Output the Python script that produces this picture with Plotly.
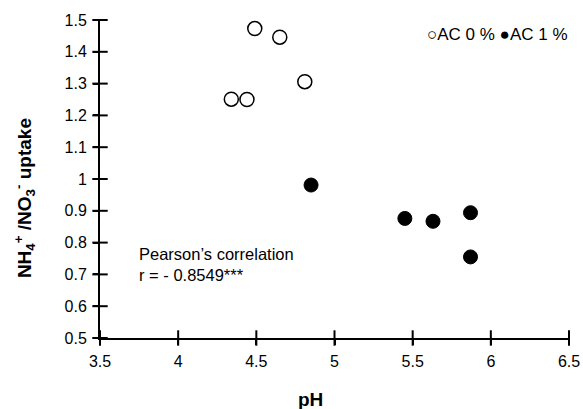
import plotly.graph_objects as go

# Data
ph_ac0 = [4.34, 4.44, 4.49, 4.65, 4.81]
ratio_ac0 = [1.251, 1.250, 1.473, 1.446, 1.306]
ph_ac1 = [4.85, 5.45, 5.63, 5.87, 5.87]
ratio_ac1 = [0.981, 0.876, 0.867, 0.894, 0.755]

x_ticks = [3.5, 4, 4.5, 5, 5.5, 6, 6.5]
y_ticks = [0.5, 0.6, 0.7, 0.8, 0.9, 1.0, 1.1, 1.2, 1.3, 1.4, 1.5]
y_labels = ["0.5", "0.6", "0.7", "0.8", "0.9", "1", "1.1", "1.2", "1.3", "1.4", "1.5"]

FONT = "Arial, Liberation Sans, sans-serif"
xr = [3.5, 6.5]
yr = [0.5, 1.5]

fig = go.Figure()
# crossing tick marks, centred on the axis lines
fig.add_trace(go.Scatter(
    x=x_ticks, y=[yr[0]] * len(x_ticks), mode="markers", cliponaxis=False,
    marker=dict(symbol="line-ns-open", size=11, color="black",
                line=dict(color="black", width=2)),
    showlegend=False, hoverinfo="skip",
))
fig.add_trace(go.Scatter(
    x=[xr[0]] * len(y_ticks), y=y_ticks, mode="markers", cliponaxis=False,
    marker=dict(symbol="line-ew-open", size=11, color="black",
                line=dict(color="black", width=2)),
    showlegend=False, hoverinfo="skip",
))
fig.add_trace(go.Scatter(
    x=ph_ac0, y=ratio_ac0, mode="markers", name="AC 0 %", cliponaxis=False,
    marker=dict(size=14, color="white", line=dict(color="black", width=1.5)),
))
fig.add_trace(go.Scatter(
    x=ph_ac1, y=ratio_ac1, mode="markers", name="AC 1 %", cliponaxis=False,
    marker=dict(size=14, color="black", line=dict(color="black", width=1)),
))

fig.update_layout(
    width=583, height=409,
    margin=dict(l=100, r=14, t=20, b=71),
    paper_bgcolor="white", plot_bgcolor="white",
    showlegend=False,
    font=dict(family=FONT, size=16, color="black"),
    xaxis=dict(
        range=xr, tickvals=x_ticks, ticktext=[str(v) for v in x_ticks],
        showgrid=False, zeroline=False, automargin=False,
        showline=True, linecolor="black", linewidth=2,
        ticks="outside", ticklen=5, tickwidth=2, tickcolor="black",
        ticklabelstandoff=3,
        tickfont=dict(size=16),
    ),
    yaxis=dict(
        range=yr, tickvals=y_ticks, ticktext=y_labels,
        showgrid=False, zeroline=False, automargin=False,
        showline=True, linecolor="black", linewidth=2,
        ticks="outside", ticklen=5, tickwidth=2, tickcolor="black",
        ticklabelstandoff=3,
        tickfont=dict(size=16),
    ),
)

# axis titles
fig.add_annotation(
    x=-0.162, y=0.44, xref="paper", yref="paper", xanchor="center", yanchor="middle",
    textangle=-90, showarrow=False,
    text="<b>NH<sub>4</sub><sup>+</sup> /NO<sub>3</sub><sup>-</sup> uptake</b>",
    font=dict(size=19),
)
fig.add_annotation(
    x=0.448, y=-0.192, xref="paper", yref="paper", xanchor="center", yanchor="middle",
    showarrow=False, text="<b>pH</b>", font=dict(size=19),
)

fig.add_annotation(
    x=3.737, y=0.73, xref="x", yref="y", xanchor="left", yanchor="middle",
    text="Pearson’s correlation<br>r = - 0.8549***", showarrow=False, align="left",
    font=dict(size=16.5),
)
fig.add_annotation(
    x=1.002, y=0.955, xref="paper", yref="paper", xanchor="right", yanchor="middle",
    text="○AC 0 % ●AC 1 %", showarrow=False, font=dict(size=17),
)

# remove the default 8px page margin so the figure fills the window exactly
fig.write_html(
    "out.html",
    config={"displayModeBar": False},
    post_script="document.body.style.margin='0';document.body.style.overflow='hidden';",
)
